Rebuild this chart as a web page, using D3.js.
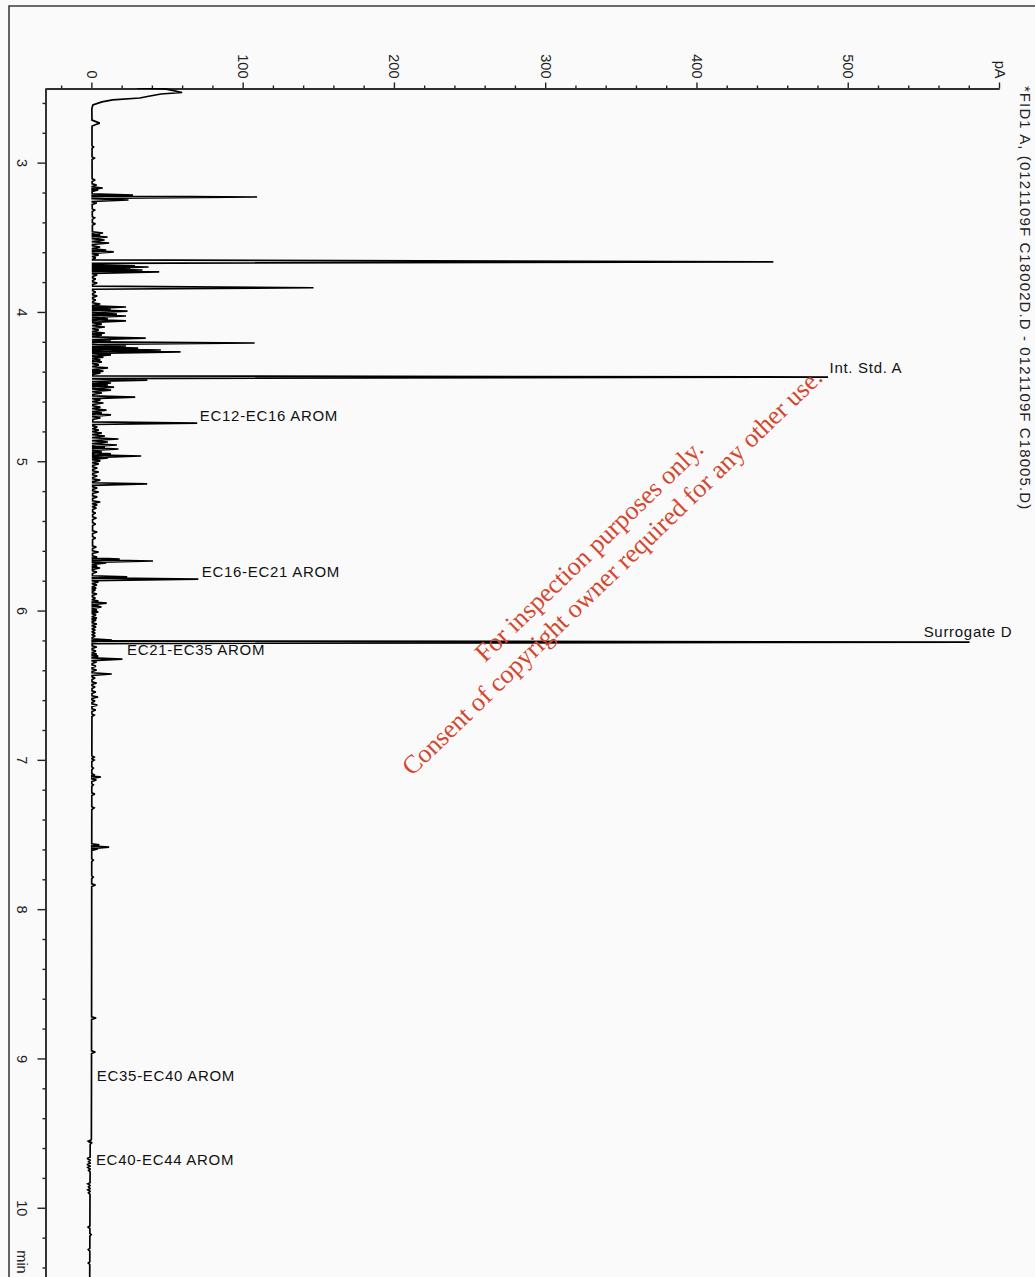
<!DOCTYPE html>
<html><head><meta charset="utf-8">
<script src="https://cdn.jsdelivr.net/npm/d3@7"></script>
<style>
html,body{margin:0;padding:0;background:#fafafa;overflow:hidden;}
svg{display:block;}
</style></head><body>
<svg id="chart" width="1035" height="1277"></svg>
<script>
// ---------- DATA ----------
const chartTitle = "*FID1 A, (0121109F C18002D.D - 0121109F C18005.D)";
const pAUnit = "pA";
const timeUnit = "min";
const pATicks = [0, 100, 200, 300, 400, 500];
const timeTicks = [3, 4, 5, 6, 7, 8, 9, 10];

// baseline / solvent tail: [time (min), signal (pA)]
const baseline = [
  [2.500,30],[2.504,48],[2.513,52],[2.530,60],[2.540,46],[2.557,37],[2.567,32],
  [2.580,14],[2.593,7],[2.613,1],[2.640,0.3],[2.715,0.4],[2.725,3],[2.735,5.5],
  [2.745,3],[2.755,0.5],[2.770,0.4],[3.200,0.5],[3.600,0.8],[4.500,1],[5.500,0.8],
  [6.600,0.4],[7.000,0.3],[8.000,0.2],[9.000,0.1],[9.540,0],[9.560,-0.8],[10.500,-1.1]
];

// peaks: [retention time (min), height above baseline (pA), optional rise width, fall width]
const peaks = [
  [2.895,1],[2.969,1.5],[3.116,2],[3.150,3],[3.170,7],[3.183,4],
  [3.217,27],[3.230,109],[3.250,24],[3.270,3],[3.317,1.5],[3.370,1.5],[3.410,2],
  [3.471,7],[3.485,5],[3.498,10],[3.518,8],[3.538,11],[3.565,5],[3.585,9],[3.598,14],
  [3.618,4],[3.638,2],[3.664,450,0.013,0.010],[3.692,28],[3.699,37],[3.712,25],[3.719,33],
  [3.732,44],[3.752,3],[3.780,2],[3.806,3],[3.838,146,0.011,0.010],[3.866,2],[3.893,3],
  [3.920,2],[3.947,5],[3.967,22],[3.980,12],[3.994,23],[4.014,16],[4.027,22],[4.047,10],
  [4.060,22],[4.081,6],[4.101,8],[4.121,4],[4.141,8],[4.154,6],[4.175,35],[4.195,12],
  [4.208,107],[4.228,22],[4.242,30],[4.255,45],[4.268,58],[4.288,12],[4.302,7],[4.322,5],
  [4.335,6],[4.355,4],[4.375,10],[4.396,7],[4.409,5],[4.436,486],[4.456,36],[4.476,12],
  [4.489,10],[4.503,14],[4.523,12],[4.543,6],[4.570,28],[4.590,5],[4.610,7],[4.637,5],
  [4.657,9],[4.677,6],[4.690,12],[4.710,5],[4.744,69],[4.771,3],[4.791,4],[4.811,6],
  [4.831,8],[4.851,17],[4.871,10],[4.891,16],[4.905,8],[4.918,17],[4.938,6],[4.951,12],
  [4.965,32],[4.978,10],[4.998,5],[5.018,4],[5.045,3],[5.072,4],[5.099,3],[5.126,5],
  [5.152,36],[5.179,3],[5.206,4],[5.239,3],[5.273,5],[5.293,3],[5.313,2.5],[5.347,2],
  [5.380,2.5],[5.420,2],[5.474,3],[5.514,2],[5.574,2.5],[5.608,4],[5.641,3],[5.655,18],
  [5.668,40],[5.681,9],[5.702,3],[5.715,5],[5.742,3],[5.775,23],[5.789,70],[5.809,4],
  [5.829,3],[5.849,2.5],[5.862,2],[5.889,3],[5.916,2],[5.936,4],[5.950,9.5],[5.963,4],
  [5.976,6],[5.997,3],[6.010,4],[6.030,2.5],[6.050,3],[6.064,2.5],[6.090,3],[6.110,2.5],
  [6.131,2],[6.151,2],[6.171,2],[6.198,13],[6.211,580],[6.244,3],[6.271,2.5],[6.291,3],
  [6.305,4],[6.325,20],[6.345,3],[6.372,2.5],[6.398,3],[6.425,13],[6.452,2],[6.485,3],
  [6.512,2],[6.546,2.5],[6.579,4],[6.606,2],[6.633,3.5],[6.666,2.5],[6.700,1.5],
  [6.981,1.5],[7.001,1.5],[7.055,1],[7.101,2],[7.115,6],[7.135,3],[7.168,1],[7.229,2],
  [7.322,1.5],[7.570,5],[7.584,11.5],[7.597,4],[7.671,1],[7.785,1],[7.838,2.5],
  [8.729,3],[8.957,2.5],[9.555,-1.5],[9.565,1],[9.670,-2],[9.690,-1],[9.710,-2],
  [9.730,-1.5],[9.750,-1],[9.840,-1.5],[9.860,-1],[9.880,-1.5],[9.900,-1],[10.130,-1.2],
  [10.180,0.8],[10.280,-1],[10.370,-1]
];

// peak / group annotations: [text, time of text baseline (min), pA at text start]
const annotations = [
  ["Int. Std. A", 4.409, 488],
  ["EC12-EC16 AROM", 4.730, 71.7],
  ["EC16-EC21 AROM", 5.775, 73.0],
  ["Surrogate D", 6.177, 550.2],
  ["EC21-EC35 AROM", 6.298, 23.5],
  ["EC35-EC40 AROM", 9.151, 3.6],
  ["EC40-EC44 AROM", 9.714, 3.0]
];

const watermark = ["For inspection purposes only.", "Consent of copyright owner required for any other use."];

// ---------- DRAWING ----------
const svg = d3.select("#chart");
const FONT = "'Liberation Sans', Arial, sans-serif";
const x = d3.scaleLinear().domain([-30, 600]).range([46, 999]);
const y = d3.scaleLinear().domain([2.5, 10.5]).range([88, 1282.4]);

svg.append("rect").attr("width", 1035).attr("height", 1277).attr("fill", "#fafafa");

// frame
svg.append("path").attr("d", "M9,1290V6H1040").attr("fill", "none")
  .attr("stroke", "#3c3c3c").attr("stroke-width", 1.6);

// pA axis (top)
const minorPA = d3.range(-20, 600, 20).filter(v => v % 100 !== 0);
const gxm = svg.append("g").attr("transform", "translate(0,88.5)")
  .call(d3.axisTop(x).tickValues(minorPA).tickSize(3).tickSizeOuter(0).tickFormat(""));
const gx = svg.append("g").attr("transform", "translate(0,88.5)")
  .call(d3.axisTop(x).tickValues(pATicks.concat([600])).tickSize(6).tickSizeOuter(0)
    .tickFormat(d => d === 600 ? pAUnit : d));
[gxm, gx].forEach(g => {
  g.selectAll("path,line").attr("stroke", "#222").attr("stroke-width", 1.4);
});
gx.selectAll("text")
  .attr("x", 0).attr("y", 0).attr("dy", null)
  .attr("text-anchor", "end")
  .attr("transform", "translate(-5,-10) rotate(90)")
  .attr("fill", "#222").style("font-family", FONT).style("font-size", "14.5px");

// time axis (left)
const minorT = d3.range(2.6, 10.5, 0.2).filter(v => Math.abs(v - Math.round(v)) > 0.05);
const gym = svg.append("g").attr("transform", "translate(45.5,0)")
  .call(d3.axisLeft(y).tickValues(minorT).tickSize(3).tickSizeOuter(0).tickFormat(""));
const gy = svg.append("g").attr("transform", "translate(45.5,0)")
  .call(d3.axisLeft(y).tickValues(timeTicks).tickSize(8).tickSizeOuter(0));
[gym, gy].forEach(g => {
  g.selectAll("path,line").attr("stroke", "#222").attr("stroke-width", 1.4);
});
gy.selectAll("text")
  .attr("x", 0).attr("y", 0).attr("dy", null)
  .attr("text-anchor", "middle")
  .attr("transform", "translate(-28.5,0) rotate(90)")
  .attr("fill", "#222").style("font-family", FONT).style("font-size", "14.5px");
svg.append("text").text(timeUnit)
  .attr("transform", `translate(17,${y(10.285)}) rotate(90)`)
  .attr("fill", "#222").style("font-family", FONT).style("font-size", "14.5px");

// title at right edge
svg.append("text").text(chartTitle)
  .attr("transform", `translate(1020,${y(2.486)}) rotate(90)`)
  .attr("fill", "#222").style("font-family", FONT).style("font-size", "15px")
  .style("letter-spacing", "1.1px");

// chromatogram trace
const base = d3.scaleLinear().domain(baseline.map(d => d[0])).range(baseline.map(d => d[1])).clamp(true);
const pts = [];
let bi = 0;
const pushBaseUntil = t => {
  while (bi < baseline.length && baseline[bi][0] < t) { pts.push([baseline[bi][0], baseline[bi][1]]); bi++; }
};
peaks.forEach(p => {
  const [t, h] = p;
  const wl = p[2] || 0.008, wr = p[3] || 0.010;
  const t0 = t - wl, t1 = t + wr;
  pushBaseUntil(t0);
  pts.push([t0, base(t0)]);
  pts.push([t, base(t) + h]);
  pts.push([t1, base(t1)]);
  while (bi < baseline.length && baseline[bi][0] <= t1) bi++;
});
pushBaseUntil(99);

svg.append("clipPath").attr("id", "plotclip")
  .append("rect").attr("x", 46).attr("y", 88).attr("width", 1000).attr("height", 1200);

svg.append("path")
  .datum(pts)
  .attr("clip-path", "url(#plotclip)")
  .attr("fill", "none").attr("stroke", "#000").attr("stroke-width", 1.7)
  .attr("stroke-linejoin", "miter").attr("stroke-miterlimit", 2)
  .attr("d", d3.line().x(d => x(d[1])).y(d => y(d[0])));

// annotations
svg.append("g").selectAll("text").data(annotations).join("text")
  .attr("x", d => x(d[2])).attr("y", d => y(d[1]))
  .text(d => d[0])
  .attr("fill", "#111").style("font-family", FONT).style("font-size", "15px")
  .style("letter-spacing", "0.7px");

// watermark
const wm = svg.append("g").style("font-family", "'Liberation Serif','Times New Roman',serif")
  .style("font-size", "26px").attr("fill", "#d6462e");
wm.append("text").text(watermark[0]).attr("text-anchor", "middle")
  .attr("transform", "translate(595,557) rotate(-44)");
wm.append("text").text(watermark[1]).attr("text-anchor", "middle")
  .attr("transform", "translate(618,578) rotate(-44)");
</script>
</body></html>
